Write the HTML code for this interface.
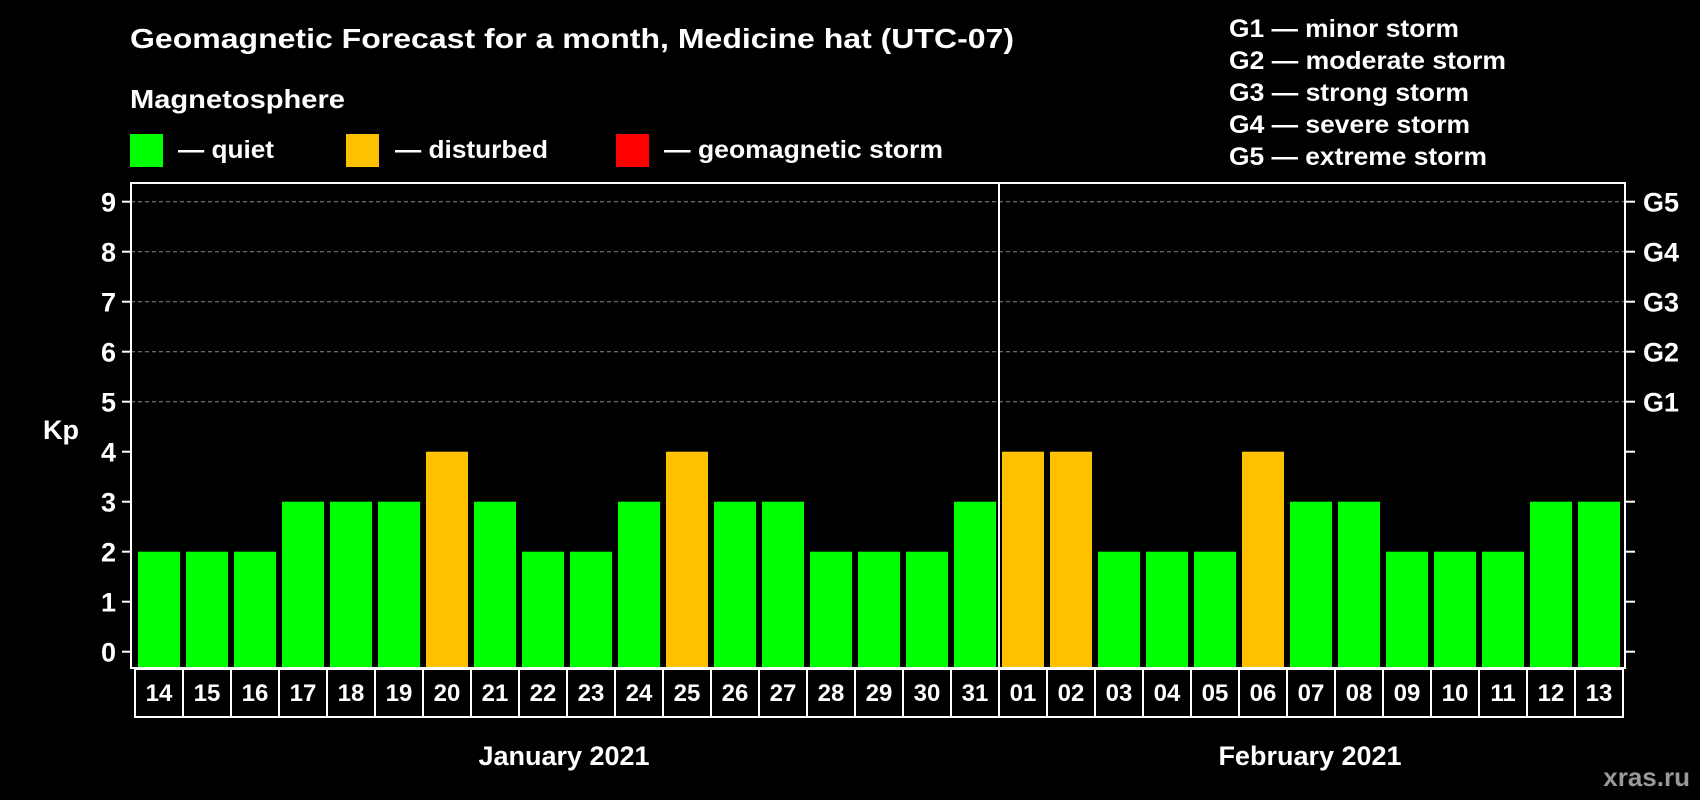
<!DOCTYPE html>
<html><head><meta charset="utf-8"><style>
html,body{margin:0;padding:0;background:#000;width:1700px;height:800px;overflow:hidden}
svg{display:block;font-family:"Liberation Sans",Arial,sans-serif;font-weight:bold}
</style></head><body>
<svg id="c" width="1700" height="800" viewBox="0 0 1700 800">
<rect x="0" y="0" width="1700" height="800" fill="#000"/>
<text x="130" y="48" font-size="28" fill="#fff" textLength="884" lengthAdjust="spacingAndGlyphs">Geomagnetic Forecast for a month, Medicine hat (UTC-07)</text>
<text x="130" y="108" font-size="26" fill="#fff" textLength="215" lengthAdjust="spacingAndGlyphs">Magnetosphere</text>
<g><rect x="130" y="134" width="33" height="33" fill="#00ff00"/><text x="178" y="158" font-size="25" fill="#fff" textLength="96" lengthAdjust="spacingAndGlyphs">— quiet</text></g>
<g><rect x="346" y="134" width="33" height="33" fill="#ffc000"/><text x="395" y="158" font-size="25" fill="#fff" textLength="153" lengthAdjust="spacingAndGlyphs">— disturbed</text></g>
<g><rect x="616" y="134" width="33" height="33" fill="#ff0000"/><text x="664" y="158" font-size="25" fill="#fff" textLength="279" lengthAdjust="spacingAndGlyphs">— geomagnetic storm</text></g>
<g font-size="25" fill="#fff">
<text x="1229" y="37" textLength="230" lengthAdjust="spacingAndGlyphs">G1 — minor storm</text>
<text x="1229" y="69" textLength="277" lengthAdjust="spacingAndGlyphs">G2 — moderate storm</text>
<text x="1229" y="101" textLength="240" lengthAdjust="spacingAndGlyphs">G3 — strong storm</text>
<text x="1229" y="133" textLength="241" lengthAdjust="spacingAndGlyphs">G4 — severe storm</text>
<text x="1229" y="165" textLength="258" lengthAdjust="spacingAndGlyphs">G5 — extreme storm</text>
</g>
<text x="43" y="439" font-size="27" fill="#fff">Kp</text>
<text x="564" y="765" font-size="27" fill="#fff" text-anchor="middle">January 2021</text>
<text x="1310" y="765" font-size="27" fill="#fff" text-anchor="middle">February 2021</text>
<text x="1690" y="786" font-size="26" fill="#999" text-anchor="end">xras.ru</text>
<g id="plot"></g>
</svg>
<script>
const days = ["14","15","16","17","18","19","20","21","22","23","24","25","26","27","28","29","30","31","01","02","03","04","05","06","07","08","09","10","11","12","13"];
const kpValues = [2,2,2,3,3,3,4,3,2,2,3,4,3,3,2,2,2,3,4,4,2,2,2,4,3,3,2,2,2,3,3];
const yTicks = [0,1,2,3,4,5,6,7,8,9];
const gLabels = ["G1","G2","G3","G4","G5"];
const gLevels = [5,6,7,8,9];

const NS="http://www.w3.org/2000/svg";
const L=131,R=1625,T=183,B=668;
const y=v=>651.7-v*50;
const x0=135, pitch=48;
const xb=i=>x0+i*pitch;
const g=document.getElementById('plot');
function mk(t,a){const e=document.createElementNS(NS,t);for(const k in a)e.setAttribute(k,a[k]);g.appendChild(e);return e;}
gLevels.forEach(v=>{
  const e=mk('line',{x1:L,x2:R,y1:y(v),y2:y(v),stroke:'#888','stroke-width':1,'stroke-dasharray':'4 3'});
  
  
});
yTicks.forEach(v=>{
  const t=mk('line',{x1:L-9,x2:L,y1:y(v),y2:y(v),stroke:'#fff','stroke-width':2});
  
  
  const t2=mk('line',{x1:R,x2:R+10,y1:y(v),y2:y(v),stroke:'#fff','stroke-width':2});
  
  
  const lb=mk('text',{x:116,y:y(v)+10,'font-size':27,fill:'#fff','text-anchor':'end'});
  lb.textContent=v;
  
  
});
gLabels.forEach((s,i)=>{
  const lb=mk('text',{x:1643,y:y(gLevels[i])+10,'font-size':27,fill:'#fff'});
  lb.textContent=s;
  
  
});
kpValues.forEach((v,i)=>{
  const col=v>=5?'#ff0000':(v>=4?'#ffc000':'#00ff00');
  const b=mk('rect',{x:xb(i)+3,y:y(v),width:42,height:B-y(v),fill:col});
  
  
});
const sep=mk('line',{x1:xb(18),x2:xb(18),y1:T,y2:B,stroke:'#fff','stroke-width':2});


const fr=mk('rect',{x:L,y:T,width:R-L,height:B-T,fill:'none',stroke:'#fff','stroke-width':2});


days.forEach((d,i)=>{
  const c=mk('rect',{x:xb(i),y:669,width:pitch,height:48,fill:'none',stroke:'#fff','stroke-width':2});
  
  
  const t=mk('text',{x:xb(i)+pitch/2,y:701,'font-size':24,fill:'#fff','text-anchor':'middle'});
  t.textContent=d;
  
  
});
</script>
</body></html>
